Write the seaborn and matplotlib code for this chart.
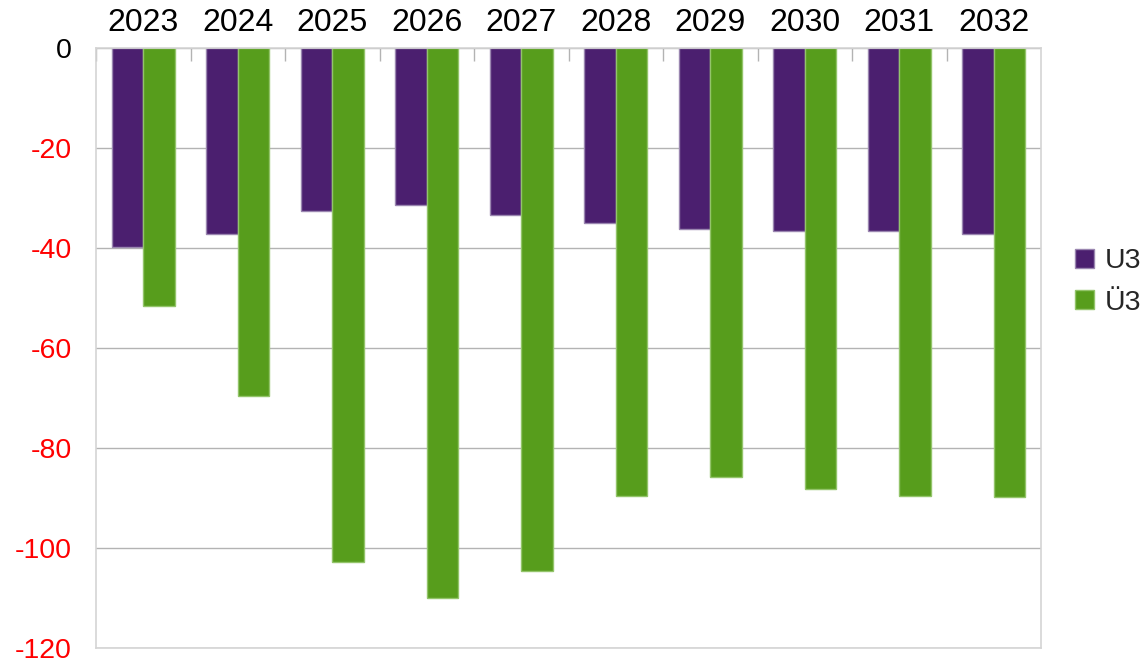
import numpy as np
import pandas as pd
import seaborn as sns
import matplotlib.pyplot as plt
from matplotlib.patches import Patch

# Daten
jahre = ["2023", "2024", "2025", "2026", "2027", "2028", "2029", "2030", "2031", "2032"]
u3 = [-39.7, -37.1, -32.5, -31.3, -33.4, -34.9, -36.1, -36.5, -36.5, -37.1]
ue3 = [-51.5, -69.6, -102.8, -109.9, -104.5, -89.5, -85.7, -88.2, -89.5, -89.7]
reihen = ["U3", "Ü3"]
yticks = [0, -20, -40, -60, -80, -100, -120]

farben = {"U3": "#4b1f6f", "Ü3": "#579d1c"}
kanten = {"U3": "#9a86b0", "Ü3": "#93c46a"}

df = pd.DataFrame({
    "Jahr": jahre * 2,
    "Wert": u3 + ue3,
    "Reihe": ["U3"] * len(jahre) + ["Ü3"] * len(jahre),
})

sns.set_style("white")
plt.rcParams["font.family"] = ["Liberation Sans", "DejaVu Sans"]

fig = plt.figure(figsize=(11.44, 6.62), dpi=100)
ax = fig.add_axes([96 / 1144, 1 - 648 / 662, 945 / 1144, 600 / 662])

sns.barplot(data=df, x="Jahr", y="Wert", hue="Reihe", order=jahre, hue_order=reihen,
            palette=farben, width=0.667, saturation=1, ax=ax, legend=False)

# Kantenfarbe je Reihe
for cont, r in zip(ax.containers, reihen):
    for b in cont:
        b.set_edgecolor(kanten[r])
        b.set_linewidth(1)

ax.set_ylim(-120, 0)
ax.set_xlim(-0.5, len(jahre) - 0.5)
ax.set_yticks(yticks)
ax.set_yticklabels([str(v) for v in yticks])
for lab, v in zip(ax.get_yticklabels(), yticks):
    lab.set_color("black" if v == 0 else "#ff0000")
ax.yaxis.grid(True, color="#b3b3b3", linewidth=1)
ax.set_axisbelow(True)

# x-Achse oben
ax.xaxis.tick_top()
ax.set_xticks(np.arange(len(jahre)) - 0.5, minor=True)
ax.tick_params(axis="x", which="major", length=0, pad=7, labelsize=23, labelcolor="black")
ax.tick_params(axis="x", which="minor", length=9.5, direction="in", color="#b3b3b3", width=1)
ax.tick_params(axis="y", length=9.5, width=1, color="#b3b3b3", pad=8, labelsize=20.5)
ax.set_xlabel("")
ax.set_ylabel("")

for s in ax.spines.values():
    s.set_color("#d4d4d4")
    s.set_linewidth(1.2)

handles = [Patch(facecolor=farben[r], edgecolor=kanten[r], label=r) for r in reihen]
fig.legend(handles=handles, loc="center left", bbox_to_anchor=(1075 / 1144, 1 - 282 / 662),
           frameon=False, fontsize=20.5, handlelength=0.65, handleheight=0.65,
           handletextpad=0.4, labelspacing=0.55, borderpad=0, borderaxespad=0)

fig.savefig("out.png", dpi=100)
